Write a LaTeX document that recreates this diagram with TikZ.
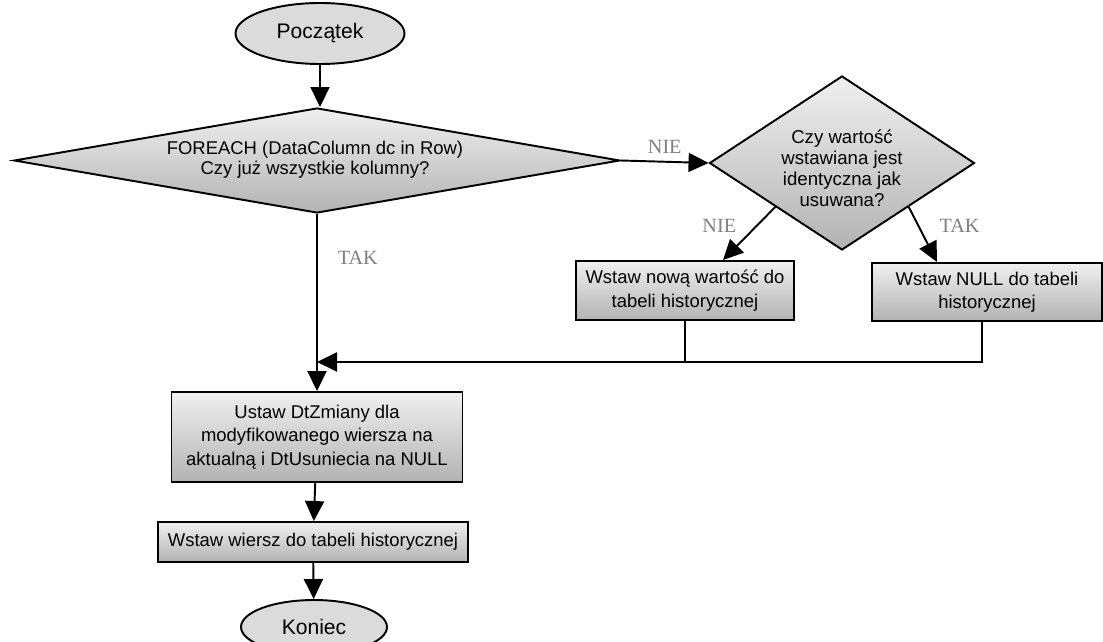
\documentclass[tikz,border=0pt]{standalone}
\usepackage{fontspec}
\setmainfont{Liberation Sans}
\newfontfamily\lblfont{Liberation Serif}
\usetikzlibrary{arrows.meta,shapes.geometric,calc}

\begin{document}
\begin{tikzpicture}[
		>={Triangle[length=0.4cm,width=0.38cm]},
		font=\fontsize{10.5}{13.3}\selectfont,
		blk/.style={draw, line width=1.1pt, align=center, inner sep=2pt, top color=black!6, bottom color=black!30},
		term/.style={draw, ellipse, line width=1.1pt, fill=black!14, inner sep=0pt, font=\fontsize{12}{14}\selectfont},
		proc/.style={blk, rectangle},
		dec/.style={blk, diamond, inner sep=0pt},
		lbl/.style={font=\lblfont\fontsize{11.5}{13}\selectfont, text=black!50},
		link/.style={->, line width=1.1pt}
		]
		
		\useasboundingbox (0,0) rectangle (22.06,-12.82);
		
		% Start and the loop test
		\node[term, minimum width=3.38cm, minimum height=1.22cm] (start) at (6.40,-0.67) {Początek};
		
		\node[dec, minimum width=12.12cm, minimum height=2.10cm] (loop) at (6.34,-3.21) {};
		\node[align=center, font=\fontsize{10.5}{11.4}\selectfont] at ($(loop.center)+(-0.04,0.02)$) {FOREACH (DataColumn dc in Row)\\Czy już wszystkie kolumny?};
		
		% Compare the values
		\node[dec, minimum width=5.30cm, minimum height=3.48cm] (same) at (16.84,-3.26) {};
		\node[align=center, font=\fontsize{10.6}{12}\selectfont] at ($(same.center)+(0,-0.1)$) {Czy wartość\\wstawiana jest\\identyczna jak\\usuwana?};
		
		\node[proc, minimum width=4.36cm, minimum height=1.18cm] (newval) at (13.70,-5.81) {Wstaw nową wartość do\\tabeli historycznej};
		\node[proc, minimum width=4.60cm, minimum height=1.16cm] (nullval) at (19.74,-5.84) {Wstaw NULL do tabeli\\historycznej};
		
		\coordinate (join) at (6.34,-7.24);
		
		% Closing steps
		\node[proc, minimum width=5.82cm, minimum height=1.80cm] (stamp) at (6.34,-8.74) {Ustaw DtZmiany dla\\modyfikowanego wiersza na\\aktualną i DtUsuniecia na NULL};
		\node[proc, minimum width=6.20cm, minimum height=0.80cm] (insert) at (6.26,-10.84) {Wstaw wiersz do tabeli historycznej};
		\node[term, minimum width=2.92cm, minimum height=1.08cm] (stop) at (6.28,-12.54) {Koniec};
		
		% Arrows
		\draw[link] (start.south) -- (start.south |- loop.north);
		\draw[link] (loop.east) -- node[lbl, above=1pt] {NIE} (same.west);
		\draw[link] (same.south west) -- node[lbl, left=8pt, pos=0.35] {NIE} ([xshift=0.76cm]newval.north);
		\draw[link] (same.south east) -- node[lbl, right=8pt, pos=0.35] {TAK} ([xshift=-1.0cm]nullval.north);
		\draw[link] (loop.south) -- node[lbl, right=8pt, pos=0.25] {TAK} (stamp.north);
		
		\draw[line width=1.1pt] (newval.south) -- (newval.south |- join);
		\draw[link] ([xshift=-0.1cm]nullval.south) |- (join);
		
		\draw[link] (stamp) -- (insert);
		\draw[link] (insert) -- (stop);
		
	\end{tikzpicture}
\end{document}
